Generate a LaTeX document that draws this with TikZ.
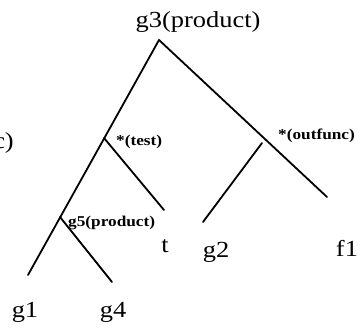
\documentclass[tikz,border=0pt]{standalone}
\usepackage{fontspec}
\setmainfont{Liberation Serif}[FakeStretch=1.15]
\begin{document}
\begin{tikzpicture}[x=1pt,y=-1pt,
  edge/.style={line width=1.8pt,line cap=round},
  big/.style={font=\fontsize{23}{23}\selectfont,inner sep=0pt,anchor=base},
  small/.style={font=\bfseries\fontsize{15}{15}\selectfont,inner sep=0pt,anchor=base west}]
\useasboundingbox (0,0) rectangle (364,329);
% junction / end points
\coordinate (A) at (159,40);
\coordinate (L) at (28,275);
\coordinate (R) at (327,197);
\coordinate (T) at (104,138);
\coordinate (Tend) at (164,210);
\coordinate (G) at (60,217);
\coordinate (Gend) at (112,282);
\coordinate (O) at (262,143);
\coordinate (Oend) at (203,222);
% labels
\node[big] (g3) at (198,28) {g3(product)};
\node[big,anchor=base east] (cl) at (14,148) {c)};
\node[small] (test) at (116,145) {*(test)};
\node[small] (outf) at (278,139) {*(outfunc)};
\node[small] (g5) at (68,226) {g5(product)};
\node[big] (t) at (165,252) {t};
\node[big] (g2) at (216,257) {g2};
\node[big] (f1) at (347,256) {f1};
\node[big] (g1) at (25,317) {g1};
\node[big] (g4) at (113,317) {g4};
% edges
\draw[edge] (A) -- (L);
\draw[edge] (A) -- (R);
\draw[edge] (T) -- (Tend);
\draw[edge] (G) -- (Gend);
\draw[edge] (O) -- (Oend);
\end{tikzpicture}
\end{document}
